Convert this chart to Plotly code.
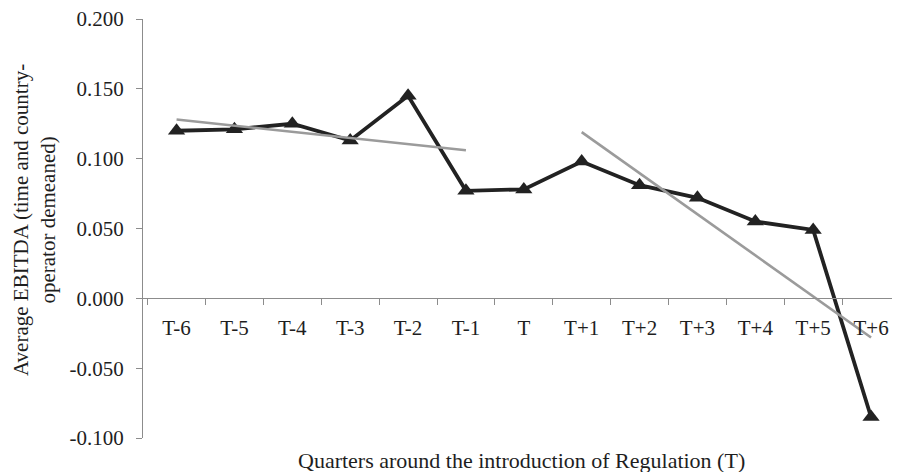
import plotly.graph_objects as go

quarters = ["T-6", "T-5", "T-4", "T-3", "T-2", "T-1", "T",
            "T+1", "T+2", "T+3", "T+4", "T+5", "T+6"]
ebitda = [0.120, 0.121, 0.125, 0.113, 0.145, 0.077, 0.078,
          0.098, 0.081, 0.072, 0.055, 0.049, -0.085]

trend_pre_x = ["T-6", "T-1"]
trend_pre_y = [0.128, 0.106]
trend_post_x = ["T+1", "T+6"]
trend_post_y = [0.119, -0.028]

y_tick_vals = [-0.10, -0.05, 0.0, 0.05, 0.10, 0.15, 0.20]
y_tick_text = ["-0.100", "-0.050", "0.000", "0.050", "0.100", "0.150", "0.200"]

FONT = "Liberation Serif"
AXIS = "#8c8c8c"
TXT = "#1e1e1e"

fig = go.Figure()
fig.add_trace(go.Scatter(
    x=quarters, y=ebitda, mode="lines+markers",
    line=dict(color="#222222", width=3.8),
    marker=dict(symbol="triangle-up", size=15, color="#222222"),
    showlegend=False, hoverinfo="skip"))
fig.add_trace(go.Scatter(
    x=trend_pre_x, y=trend_pre_y, mode="lines",
    line=dict(color="#9b9b9b", width=2.6), showlegend=False))
fig.add_trace(go.Scatter(
    x=trend_post_x, y=trend_post_y, mode="lines",
    line=dict(color="#9b9b9b", width=2.6), showlegend=False))

# page is drawn with an 8px body margin offset
L, T, B, R = 135, 11, 42, 8
PW, PH = 900 - L - R, 472 - T - B
BOT = 472 - B + 8  # screen y of plot bottom

fig.update_layout(
    width=900, height=472,
    margin=dict(l=L, r=R, t=T, b=B, autoexpand=False),
    plot_bgcolor="white", paper_bgcolor="white",
    font=dict(family=FONT, size=21, color=TXT),
    xaxis=dict(
        type="category", categoryorder="array", categoryarray=quarters,
        range=[-0.58, 12.5], anchor="free", position=1/3,
        showline=True, linecolor=AXIS, linewidth=1.2,
        ticks="outside", tickson="boundaries", ticklen=6, tickcolor=AXIS,
        ticklabelstandoff=10, showgrid=False, zeroline=False,
        ticklabeloverflow="allow", automargin=False,
        tickfont=dict(family=FONT, size=21, color=TXT)),
    yaxis=dict(
        range=[-0.1, 0.2], tickvals=y_tick_vals, ticktext=y_tick_text,
        showline=True, linecolor=AXIS, linewidth=1.2,
        ticks="outside", ticklen=6, tickcolor=AXIS, ticklabelstandoff=8,
        showgrid=False, zeroline=False, ticklabeloverflow="allow",
        automargin=False,
        tickfont=dict(family=FONT, size=21, color=TXT)),
    annotations=[
        dict(text="Average EBITDA (time and country-<br>operator demeaned)",
             xref="paper", yref="paper", x=(34 - 143) / PW, y=(BOT - 220) / PH,
             xanchor="center", yanchor="middle", textangle=-90, showarrow=False,
             font=dict(family=FONT, size=21, color=TXT)),
        dict(text="Quarters around the introduction of Regulation (T)",
             xref="paper", yref="paper", x=(521 - 143) / PW, y=(BOT - 460) / PH,
             xanchor="center", yanchor="middle", showarrow=False,
             font=dict(family=FONT, size=22, color=TXT)),
    ],
)

fig.write_html("out.html")
